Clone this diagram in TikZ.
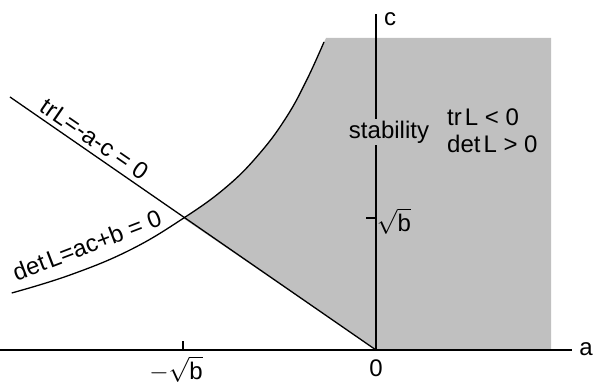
\documentclass[tikz,border=0pt]{standalone}
\usepackage{fontspec}
\usepackage{amsmath}
\setmainfont{Liberation Sans}
\definecolor{regiongray}{RGB}{192,192,192}
\begin{document}
\begin{tikzpicture}[x=1pt,y=1pt,
  axis/.style={line width=1.6pt,black},
  curveline/.style={line width=1.3pt,black},
  lbl/.style={font=\fontsize{24}{26}\selectfont,inner sep=1pt},
]
\useasboundingbox (0,0) rectangle (595,383);
% key coordinates
\coordinate (O) at (376,33);
\coordinate (X) at (183,165);
\coordinate (trstart) at (10,286);
\coordinate (xl) at (0,33);
\coordinate (xr) at (572,33);
\coordinate (ct) at (376,369);
% shaded region
\fill[regiongray] (O) -- (551,33) -- (551,345) -- (326,345) --
  plot[smooth,tension=0.7] coordinates {(324,341) (306.7,303) (286.7,266.3) (260,230) (226.7,196.3) (183.3,164.7)}
  -- cycle;
% curve det L = 0
\draw[curveline] plot[smooth,tension=0.7] coordinates {(324,341) (306.7,303) (286.7,266.3) (260,230) (226.7,196.3) (183.3,164.7) (130,133) (70,108) (11.7,90)};
% tr L line
\draw[curveline] (trstart) -- (O);
% axes
\draw[axis] (xl) -- (xr);
\draw[axis] (O) -- (ct);
% ticks
\coordinate (t1a) at (183,33);
\coordinate (t1b) at (183,42);
\draw[axis] (t1a) -- (t1b);
\coordinate (t2a) at (366,165);
\coordinate (t2b) at (376,165);
\draw[axis] (t2a) -- (t2b);
% labels
\node[lbl] (la) at (586,34) {a};
\node[lbl] (lc) at (390,364) {c};
\node[lbl] (l0) at (376,15) {0};
\node[lbl] (lmb) at (176,14) {$-\sqrt{\text{b}}$};
\node[lbl] (lsb) at (394,162) {$\sqrt{\text{b}}$};
\node[lbl,fill=regiongray,inner sep=2pt] (stab) at (389,251) {stability};
\node[lbl,anchor=west] (tr) at (446,266) {tr\kern3pt L < 0};
\node[lbl,anchor=west] (det) at (446,239) {det\kern3pt L > 0};
\node[lbl,rotate=-34.6] (trlab) at (95,244) {tr\kern1pt L=-a-c = 0};
\node[lbl,rotate=21] (detlab) at (87,138) {det\kern3pt L=ac+b = 0};
\end{tikzpicture}
\end{document}
